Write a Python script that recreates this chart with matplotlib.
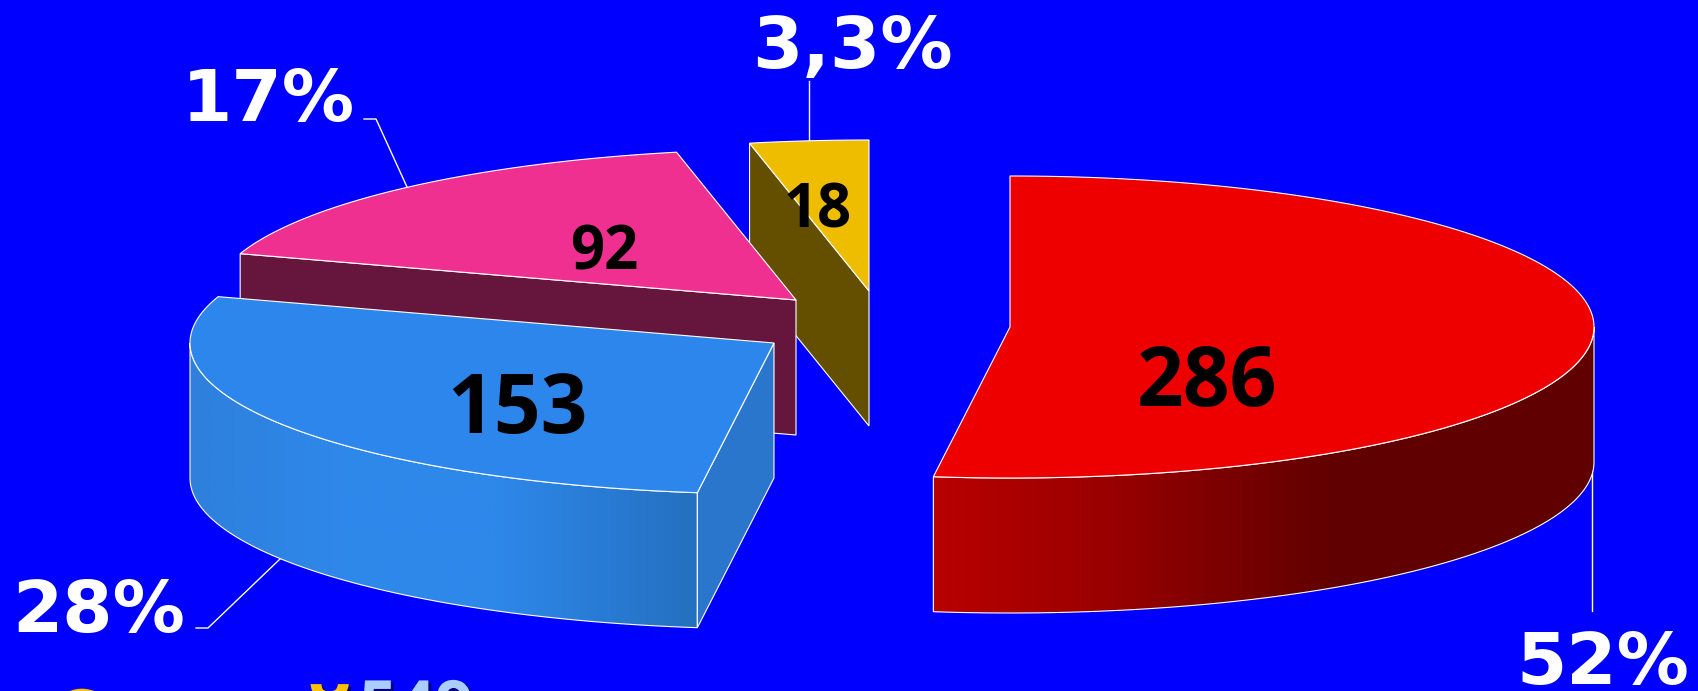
import numpy as np
import matplotlib
matplotlib.use('Agg')
import matplotlib.pyplot as plt
import matplotlib.patheffects as pe
from matplotlib.colors import LinearSegmentedColormap
from matplotlib.patches import Polygon

# cases per group, clockwise from 12 o'clock
counts = [286, 153, 92, 18]
percent_labels = ['52%', '28%', '17%', '3,3%']
count_labels = ['286', '153', '92', '18']
footer_first = 'Случай'
footer_total = '549'

top_colors = ['#ee0000', '#2c86ec', '#f03090', '#eebd00']
cut_colors = [None, '#2a76cc', '#66153c', '#644e00']
# rim gradient, left to right
rim_stops = [[(0, '#b80000'), (.26, '#9a0000'), (.41, '#800000'), (.6, '#620000'), (1, '#600000')],
             [(0, '#2e80dc'), (.3, '#2e88ea'), (.6, '#2e88ea'), (1, '#2470c0')],
             None, None]

# slice centres after exploding, in pixels
centres = [(1010, 327), (774, 343), (796, 300), (869, 291)]
RX, RY, DEPTH = 584, 151, 135

BG = '#0000ff'
FONT = 'Open Sans'
PCT_FONT = 'DejaVu Sans'

fig = plt.figure(figsize=(16.99, 6.91), dpi=100, facecolor=BG)
ax = fig.add_axes([0, 0, 1, 1])
ax.set_xlim(0, 1699)
ax.set_ylim(691, 0)
ax.axis('off')

angles = np.cumsum([0] + counts) / sum(counts) * 2 * np.pi


def rim_xy(c, t):
    return c[0] + RX * np.sin(t), c[1] - RY * np.cos(t)


def draw_slice(i, z):
    c = centres[i]
    t0, t1 = angles[i], angles[i + 1]
    x, y = rim_xy(c, np.linspace(t0, t1, 200))

    # outer wall, only the part facing us
    lo, hi = max(t0, np.pi / 2), min(t1, 3 * np.pi / 2)
    if lo < hi and rim_stops[i]:
        xw, yw = rim_xy(c, np.linspace(lo, hi, 200))
        wall = np.r_[np.c_[xw, yw], np.c_[xw[::-1], yw[::-1] + DEPTH]]
        poly = Polygon(wall, closed=True, fc='none', ec='white', lw=0.8, zorder=z + 0.2)
        ax.add_patch(poly)
        cmap = LinearSegmentedColormap.from_list('rim', rim_stops[i])
        im = ax.imshow(np.linspace(0, 1, 256)[None, :], cmap=cmap, aspect='auto', zorder=z + 0.1,
                       extent=(xw.min(), xw.max(), yw.max() + DEPTH, yw.min()))
        im.set_clip_path(poly)

    # cut face along the first edge
    if cut_colors[i]:
        ex, ey = rim_xy(c, t0)
        quad = [c, (ex, ey), (ex, ey + DEPTH), (c[0], c[1] + DEPTH)]
        ax.add_patch(Polygon(quad, closed=True, fc=cut_colors[i], ec='white', lw=0.8, zorder=z + 0.3))

    top = np.r_[[c], np.c_[x, y]]
    ax.add_patch(Polygon(top, closed=True, fc=top_colors[i], ec='white', lw=0.8, zorder=z + 0.5))


for i, z in zip([3, 2, 1, 0], [1, 2, 3, 4]):
    draw_slice(i, z)

# leader lines
leaders = [[(1592, 335), (1592, 611)], [(280, 559), (208, 628), (196, 628)],
           [(407, 187), (376, 119), (364, 119)], [(809, 140), (809, 81)]]
for pts in leaders:
    ax.plot(*zip(*pts), color='white', lw=1, zorder=6 if pts[0][0] != 1592 else 3)

# percent labels (left, baseline)
pct_pos = [(1516, 684), (12, 632), (182, 121), (752, 68)]
for s, (x, y) in zip(percent_labels, pct_pos):
    ax.text(x, y, s, color='white', fontsize=52, fontweight='bold', family=PCT_FONT, va='baseline', ha='left', zorder=7)

# counts on the slices (centre, baseline)
cnt_pos = [(1207, 406), (517, 433), (604, 269), (818, 227)]
cnt_size = [59, 59, 43, 43]
for s, (x, y), fs in zip(count_labels, cnt_pos, cnt_size):
    ax.text(x, y, s, color='black', fontsize=fs, fontweight='bold', family=FONT, va='baseline', ha='center', zorder=7)

# caption cropped by the bottom edge
shadow = [pe.withSimplePatchShadow(offset=(2, -2), shadow_rgbFace='#000080', alpha=1)]
ax.text(50, 747, footer_first, color='#ffc000', fontsize=58, fontweight='bold', family=FONT,
        va='baseline', zorder=7, path_effects=shadow)
ax.text(359, 728, footer_total, color='#aaccff', fontsize=48, fontweight='bold', family=FONT,
        va='baseline', zorder=7, path_effects=shadow)

fig.savefig('out.png', dpi=100, facecolor=BG)
